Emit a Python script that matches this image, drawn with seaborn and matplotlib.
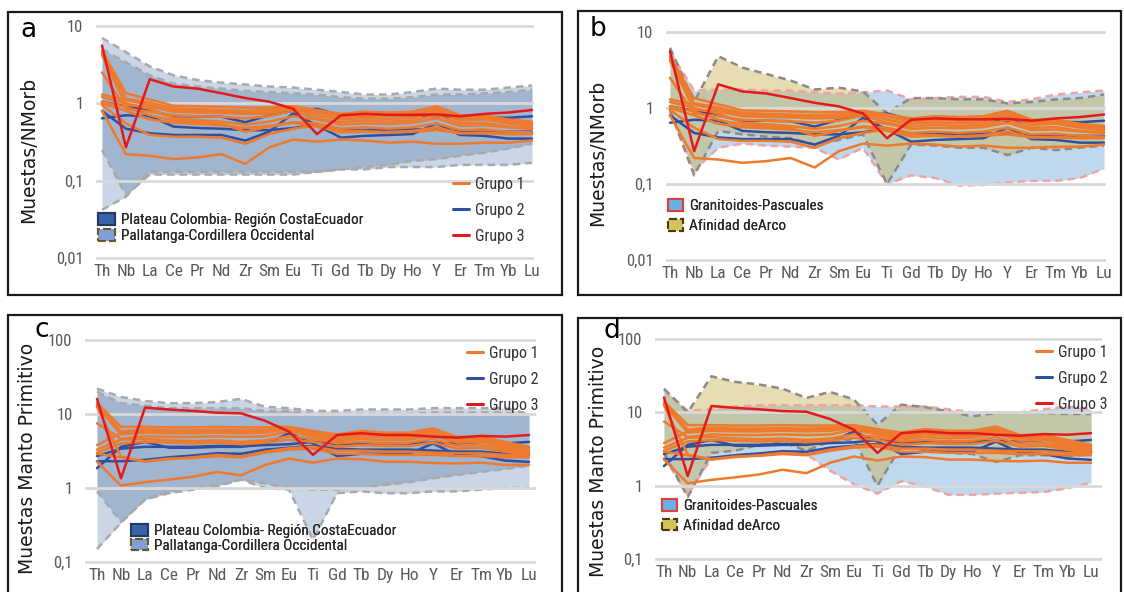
import numpy as np
import pandas as pd
import matplotlib
matplotlib.use('Agg')
import matplotlib.pyplot as plt
import seaborn as sns
from matplotlib.lines import Line2D
from matplotlib.patches import Patch, Rectangle
from matplotlib.font_manager import FontProperties
from matplotlib import font_manager as fm

sns.set_theme(style='white')
plt.rcParams['font.family'] = ['DejaVu Sans']

# ---------------- data ----------------
elements = ['Th', 'Nb', 'La', 'Ce', 'Pr', 'Nd', 'Zr', 'Sm', 'Eu', 'Ti',
            'Gd', 'Tb', 'Dy', 'Ho', 'Y', 'Er', 'Tm', 'Yb', 'Lu']

# N-MORB normalised samples (panels a, b)
morb_grupo1 = [
    [4.8, 1.35, 1.12, 0.93, 0.92, 0.90, 0.88, 0.88, 0.92, 0.82, 0.73, 0.78, 0.76, 0.78, 0.92, 0.70, 0.70, 0.62, 0.58],
    [4.5, 1.15, 1.02, 0.86, 0.84, 0.82, 0.80, 0.82, 0.90, 0.76, 0.68, 0.73, 0.70, 0.73, 0.85, 0.66, 0.68, 0.58, 0.53],
    [4.2, 0.95, 0.90, 0.78, 0.76, 0.75, 0.73, 0.74, 0.86, 0.70, 0.62, 0.65, 0.63, 0.65, 0.78, 0.60, 0.62, 0.55, 0.50],
    [2.5, 0.85, 0.78, 0.70, 0.68, 0.67, 0.64, 0.68, 0.80, 0.64, 0.57, 0.60, 0.58, 0.60, 0.70, 0.55, 0.56, 0.50, 0.47],
    [1.30, 1.10, 0.95, 0.82, 0.80, 0.78, 0.75, 0.77, 0.88, 0.78, 0.66, 0.70, 0.68, 0.70, 0.82, 0.64, 0.65, 0.58, 0.55],
    [1.20, 1.00, 0.85, 0.64, 0.61, 0.58, 0.53, 0.58, 0.68, 0.62, 0.53, 0.55, 0.54, 0.56, 0.64, 0.51, 0.52, 0.49, 0.47],
    [1.00, 0.80, 0.62, 0.56, 0.54, 0.52, 0.48, 0.51, 0.57, 0.55, 0.47, 0.49, 0.47, 0.49, 0.55, 0.45, 0.46, 0.43, 0.42],
    [0.95, 0.55, 0.39, 0.37, 0.37, 0.36, 0.30, 0.40, 0.47, 0.52, 0.44, 0.44, 0.42, 0.44, 0.49, 0.41, 0.42, 0.40, 0.40],
    [0.80, 0.22, 0.21, 0.19, 0.20, 0.22, 0.165, 0.27, 0.34, 0.32, 0.34, 0.33, 0.31, 0.32, 0.30, 0.30, 0.31, 0.31, 0.33],
    [1.05, 0.90, 0.70, 0.60, 0.57, 0.55, 0.43, 0.50, 0.56, 0.50, 0.42, 0.43, 0.42, 0.43, 0.45, 0.41, 0.41, 0.40, 0.41],
]
morb_grupo2 = [
    [1.05, 0.92, 0.80, 0.68, 0.68, 0.67, 0.57, 0.70, 0.80, 0.85, 0.70, 0.70, 0.70, 0.70, 0.68, 0.66, 0.66, 0.65, 0.68],
    [0.80, 0.47, 0.41, 0.39, 0.39, 0.39, 0.33, 0.43, 0.74, 0.52, 0.36, 0.38, 0.39, 0.40, 0.55, 0.39, 0.38, 0.35, 0.35],
    [0.64, 0.70, 0.68, 0.50, 0.48, 0.47, 0.45, 0.45, 0.48, 0.53, 0.45, 0.45, 0.46, 0.46, 0.46, 0.43, 0.43, 0.43, 0.43],
]
morb_grupo3 = [
    [5.6, 0.27, 2.05, 1.65, 1.55, 1.35, 1.17, 1.05, 0.85, 0.40, 0.70, 0.73, 0.71, 0.71, 0.72, 0.68, 0.73, 0.76, 0.82],
]

# Primitive-mantle normalised samples (panels c, d)
pm_grupo1 = [
    [14.0, 6.7, 6.7, 6.6, 6.6, 6.7, 6.6, 6.6, 6.7, 5.9, 5.3, 5.9, 5.6, 5.6, 6.4, 4.9, 4.9, 4.2, 3.6],
    [13.2, 5.8, 6.2, 6.0, 6.0, 6.1, 6.0, 6.1, 6.5, 5.6, 5.0, 5.5, 5.3, 5.3, 6.0, 4.7, 4.8, 4.0, 3.4],
    [12.8, 5.3, 5.6, 5.5, 5.5, 5.6, 5.5, 5.6, 6.2, 5.3, 4.6, 5.0, 4.8, 4.8, 5.5, 4.4, 4.5, 3.7, 3.2],
    [7.5, 4.6, 5.0, 4.9, 4.9, 5.0, 4.9, 5.0, 5.8, 5.0, 4.3, 4.6, 4.4, 4.5, 5.1, 4.1, 4.2, 3.5, 3.1],
    [3.8, 5.5, 5.8, 5.7, 5.7, 5.8, 5.7, 5.8, 6.3, 5.5, 4.8, 5.2, 5.0, 5.0, 5.7, 4.5, 4.6, 3.9, 3.5],
    [3.3, 4.5, 4.6, 4.4, 4.3, 4.4, 4.2, 4.4, 5.0, 4.6, 4.0, 4.2, 4.0, 4.1, 4.6, 3.7, 3.8, 3.3, 3.0],
    [3.0, 4.0, 4.2, 4.1, 4.0, 4.1, 3.9, 4.1, 4.5, 4.2, 3.6, 3.8, 3.7, 3.7, 4.1, 3.4, 3.5, 3.1, 2.8],
    [12.5, 2.65, 2.27, 2.45, 2.6, 2.8, 2.65, 3.1, 3.45, 3.6, 3.2, 3.2, 3.1, 3.1, 3.0, 2.95, 2.95, 2.8, 2.8],
    [2.27, 1.08, 1.2, 1.3, 1.42, 1.65, 1.48, 2.05, 2.5, 2.2, 2.5, 2.45, 2.27, 2.27, 2.17, 2.15, 2.2, 2.05, 2.05],
    [2.9, 2.6, 2.3, 2.5, 2.55, 2.7, 2.6, 3.0, 3.3, 3.4, 2.9, 2.9, 2.8, 2.8, 2.8, 2.7, 2.7, 2.6, 2.6],
]
pm_grupo2 = [
    [2.7, 3.4, 3.6, 3.6, 3.6, 3.7, 3.7, 3.8, 3.9, 4.2, 3.9, 4.0, 4.0, 4.0, 4.1, 4.0, 4.2, 4.0, 4.2],
    [1.85, 3.6, 4.2, 3.5, 3.5, 3.6, 3.6, 3.9, 5.5, 4.0, 2.7, 2.9, 2.9, 2.9, 4.0, 2.8, 2.7, 2.35, 2.25],
    [2.3, 2.3, 2.4, 2.6, 2.75, 2.95, 2.9, 3.3, 3.5, 3.7, 3.4, 3.3, 3.3, 3.3, 3.2, 3.1, 3.1, 2.9, 2.9],
]
pm_grupo3 = [
    [16.0, 1.35, 12.2, 11.5, 11.0, 10.4, 10.2, 8.1, 5.8, 2.8, 5.2, 5.5, 5.2, 5.2, 4.95, 4.8, 5.05, 4.95, 5.2],
]

# reference fields, N-MORB
morb_pallatanga_hi = [7.0, 4.6, 3.0, 2.3, 2.0, 1.85, 1.75, 1.65, 1.6, 1.5, 1.4, 1.3, 1.3, 1.4, 1.55, 1.5, 1.5, 1.6, 1.7]
morb_pallatanga_lo = [0.042, 0.062, 0.13, 0.13, 0.13, 0.13, 0.13, 0.13, 0.13, 0.13, 0.14, 0.14, 0.15, 0.15, 0.15, 0.16, 0.16, 0.16, 0.17]
morb_plateau_hi = [5.0, 3.4, 2.3, 1.8, 1.65, 1.55, 1.45, 1.4, 1.35, 1.3, 1.2, 1.15, 1.15, 1.2, 1.3, 1.3, 1.35, 1.4, 1.5]
morb_plateau_lo = [0.25, 0.065, 0.12, 0.12, 0.12, 0.12, 0.12, 0.12, 0.12, 0.13, 0.14, 0.15, 0.16, 0.18, 0.19, 0.21, 0.23, 0.26, 0.30]
morb_arco_hi = [6.2, 1.2, 4.8, 3.4, 2.8, 2.3, 1.75, 1.85, 1.65, 0.86, 1.35, 1.35, 1.3, 1.3, 1.15, 1.2, 1.3, 1.35, 1.5]
morb_arco_lo = [0.95, 0.13, 0.5, 0.45, 0.42, 0.40, 0.33, 0.38, 0.45, 0.10, 0.33, 0.32, 0.30, 0.30, 0.24, 0.30, 0.28, 0.30, 0.32]
morb_granit_hi = [5.5, 1.7, 1.75, 1.75, 1.7, 1.7, 1.6, 1.55, 1.6, 1.7, 1.3, 1.35, 1.4, 1.4, 1.2, 1.3, 1.5, 1.6, 1.7]
morb_granit_lo = [0.9, 0.15, 0.30, 0.34, 0.32, 0.31, 0.30, 0.21, 0.30, 0.10, 0.13, 0.12, 0.095, 0.097, 0.105, 0.11, 0.11, 0.12, 0.16]

# reference fields, primitive mantle
pm_pallatanga_hi = [22, 17, 15, 14, 14, 14.5, 16, 12.5, 12, 11, 11, 11.5, 11.5, 11.5, 12, 12, 12, 12, 10]
pm_pallatanga_lo = [0.15, 0.34, 0.7, 0.85, 0.95, 1.05, 1.3, 1.0, 0.95, 0.2, 0.85, 0.9, 0.85, 0.85, 0.9, 0.9, 0.95, 1.0, 1.0]
pm_plateau_hi = [20, 14, 13, 12, 12, 12, 12, 11, 11, 10, 10, 10, 10, 10, 10.5, 10.5, 10.5, 10.5, 9.5]
pm_plateau_lo = [0.9, 0.35, 0.7, 0.9, 1.0, 1.1, 1.3, 1.15, 1.0, 0.95, 0.95, 1.0, 1.1, 1.2, 1.35, 1.5, 1.65, 1.8, 2.0]
pm_arco_hi = [21, 10, 31, 26, 24, 21, 15.7, 19, 15, 6.8, 12.7, 11.8, 10.3, 8.8, 9.8, 10, 9.8, 9.5, 9.5]
pm_arco_lo = [2.8, 0.7, 2.8, 3.0, 3.6, 3.9, 3.0, 4.0, 4.3, 1.0, 3.5, 3.0, 2.8, 2.7, 2.1, 2.6, 2.6, 2.5, 2.7]
pm_granit_hi = [20, 10.5, 11, 12, 12.5, 12.5, 12.5, 12.5, 12.5, 12, 12, 12, 11, 10, 10, 10, 11, 12, 11]
pm_granit_lo = [2.5, 0.75, 2.4, 2.6, 2.7, 2.8, 2.7, 1.6, 1.05, 0.78, 1.15, 0.98, 0.75, 0.75, 0.78, 0.8, 0.82, 0.92, 1.1]

morb_yticks = [0.01, 0.1, 1, 10]
morb_ylabels = ['0,01', '0,1', '1', '10']
pm_yticks = [0.1, 1, 10, 100]
pm_ylabels = ['0,1', '1', '10', '100']

group_names = ['Grupo 1', 'Grupo 2', 'Grupo 3']
field_names_ac = ['Plateau Colombia- Región CostaEcuador', 'Pallatanga-Cordillera Occidental']
field_names_bd = ['Granitoides-Pascuales', 'Afinidad deArco']

ORANGE = '#ee7a2e'
BLUE = '#2f4fa0'
RED = '#e3191c'
palette = {'Grupo 1': ORANGE, 'Grupo 2': BLUE, 'Grupo 3': RED}

# ---------------- narrow font choice ----------------
_pref = ['Liberation Sans Narrow', 'Arial Narrow', 'Roboto Condensed', 'Noto Sans',
         'Open Sans', 'DejaVu Sans']
_cond = None
for name in _pref:
    for f in fm.fontManager.ttflist:
        if f.name != name or f.style != 'normal':
            continue
        w = f.weight
        if isinstance(w, str):
            ok_w = w in ('normal', 'regular', 'book')
        else:
            ok_w = w == 400
        is_cond = ('Narrow' in f.name or 'Condensed' in f.name or
                   str(f.stretch) in ('condensed', 'semi-condensed', 'extra-condensed'))
        if ok_w and is_cond:
            _cond = f.fname
            break
    if _cond:
        break


def fp(size):
    if _cond:
        return FontProperties(fname=_cond, size=size)
    return FontProperties(family=['Liberation Sans', 'DejaVu Sans'], size=size * 0.88)


def long_df(g1, g2, g3):
    rows = []
    for gname, samples in zip(group_names, [g1, g2, g3]):
        for i, vals in enumerate(samples):
            for j, (el, v) in enumerate(zip(elements, vals)):
                rows.append(dict(grupo=gname, muestra=f'{gname}-{i}', elemento=el, pos=j, valor=v))
    return pd.DataFrame(rows)


df_morb = long_df(morb_grupo1, morb_grupo2, morb_grupo3)
df_pm = long_df(pm_grupo1, pm_grupo2, pm_grupo3)

# ---------------- figure ----------------
W, H = 1124, 592
fig = plt.figure(figsize=(W / 100, H / 100), dpi=100)


def make_ax(x0, x1, th, lu, ytop, ybot, ylim):
    pad = 3
    s = (lu - th) / 18.0
    ax = fig.add_axes([x0 / W, 1 - (ybot + pad) / H, (x1 - x0) / W, (ybot - ytop + 2 * pad) / H])
    ax.set_yscale('log')
    lo, hi = np.log10(ylim[0]), np.log10(ylim[1])
    ppd = (ybot - ytop) / (hi - lo)
    ax.set_ylim(10 ** (lo - pad / ppd), 10 ** (hi + pad / ppd))
    ax.set_xlim(-(th - x0) / s, 18 + (x1 - lu) / s)
    for sp in ax.spines.values():
        sp.set_visible(False)
    return ax


def style_ax(ax, yticks, ylabels):
    ax.set_yticks(yticks)
    ax.set_yticklabels(ylabels, fontproperties=fp(12))
    ax.minorticks_off()
    ax.set_xticks(range(len(elements)))
    ax.set_xticklabels(elements, fontproperties=fp(12.5))
    ax.tick_params(length=0, colors='#595959', pad=2)
    ax.tick_params(axis='y', pad=9)
    ax.set_axisbelow('line')
    ax.grid(axis='y', color='#d9d9d9', lw=2)
    ax.grid(axis='x', visible=False)
    ax.set_xlabel('')
    ax.set_ylabel('')


def field(ax, lo, hi, face, alpha, edge):
    x = np.arange(len(elements))
    ax.fill_between(x, lo, hi, color=face, alpha=alpha, lw=0, zorder=1)
    ax.plot(x, hi, ls=(0, (3, 2)), color=edge, lw=1.8, zorder=1.2)
    ax.plot(x, lo, ls=(0, (3, 2)), color=edge, lw=1.8, zorder=1.2)


def lines(ax, df):
    sns.lineplot(data=df, x='pos', y='valor', hue='grupo',
                 hue_order=['Grupo 2', 'Grupo 1', 'Grupo 3'], palette=palette,
                 units='muestra', estimator=None, sort=False, legend=False,
                 lw=1.8, ax=ax, zorder=2)


def legend(ax, handles, labels, x, ytop, hl, hh, htp, ls, fs=11.5, color='#262626'):
    leg = ax.legend(handles, labels, loc='upper left', bbox_to_anchor=(x / W, 1 - ytop / H),
                    bbox_transform=fig.transFigure, frameon=False, borderpad=0,
                    borderaxespad=0, handlelength=hl, handleheight=hh,
                    handletextpad=htp, labelspacing=ls, prop=fp(fs), labelcolor=color)
    ax.add_artist(leg)
    return leg


grp_handles = [Line2D([], [], color=ORANGE, lw=2.2), Line2D([], [], color=BLUE, lw=2.2),
               Line2D([], [], color=RED, lw=2.2)]
ac_handles = [Patch(fc='#3a63a6', ec='#1f3a66', lw=1.5),
              Patch(fc='#7f9fd6', ec='#6b5a20', lw=1.5, ls='--')]
bd_handles = [Patch(fc='#6aaee6', ec='#e0403a', lw=1.5),
              Patch(fc='#d2c35a', ec='#4a3a10', lw=1.5, ls='--')]

PAL_FACE, PAL_A = '#9fb3d1', 0.55
PLA_FACE, PLA_A = '#5a7aa8', 0.35
AC_EDGE = '#a9a9a9'
GRA_FACE, GRA_A, GRA_EDGE = '#9dc3e6', 0.65, '#f2a2a2'
ARC_FACE, ARC_A, ARC_EDGE = '#c9b458', 0.45, '#8a8a8a'

# ---- panel a ----
ax_a = make_ax(96, 534, 102, 532, 26, 258, (0.01, 10))
field(ax_a, morb_pallatanga_lo, morb_pallatanga_hi, PAL_FACE, PAL_A, AC_EDGE)
field(ax_a, morb_plateau_lo, morb_plateau_hi, PLA_FACE, PLA_A, AC_EDGE)
lines(ax_a, df_morb)
style_ax(ax_a, morb_yticks, morb_ylabels)
legend(ax_a, grp_handles, group_names, 453, 177, 1.0, 0.7, 0.35, 0.68, color='#333333')
legend(ax_a, ac_handles, field_names_ac, 98, 213, 1.1, 0.8, 0.4, 0.12, fs=11)

# ---- panel b ----
ax_b = make_ax(666, 1106, 670, 1104, 32, 260, (0.01, 10))
field(ax_b, morb_granit_lo, morb_granit_hi, GRA_FACE, GRA_A, GRA_EDGE)
field(ax_b, morb_arco_lo, morb_arco_hi, ARC_FACE, ARC_A, ARC_EDGE)
lines(ax_b, df_morb)
style_ax(ax_b, morb_yticks, morb_ylabels)
legend(ax_b, bd_handles, field_names_bd, 668, 199, 1.0, 0.8, 0.4, 0.4, fs=11)

# ---- panel c ----
ax_c = make_ax(85, 536, 97, 529, 340, 562, (0.1, 100))
field(ax_c, pm_pallatanga_lo, pm_pallatanga_hi, PAL_FACE, PAL_A, AC_EDGE)
field(ax_c, pm_plateau_lo, pm_plateau_hi, PLA_FACE, PLA_A, AC_EDGE)
lines(ax_c, df_pm)
style_ax(ax_c, pm_yticks, pm_ylabels)
legend(ax_c, grp_handles, group_names, 467, 346, 1.0, 0.7, 0.35, 0.68, color='#333333')
legend(ax_c, ac_handles, field_names_ac, 131, 524, 1.1, 0.8, 0.4, 0.04, fs=11)

# ---- panel d ----
ax_d = make_ax(655, 1102, 664, 1091, 339, 559, (0.1, 100))
field(ax_d, pm_granit_lo, pm_granit_hi, GRA_FACE, GRA_A, GRA_EDGE)
field(ax_d, pm_arco_lo, pm_arco_hi, ARC_FACE, ARC_A, ARC_EDGE)
lines(ax_d, df_pm)
style_ax(ax_d, pm_yticks, pm_ylabels)
legend(ax_d, grp_handles, group_names, 1036, 345, 1.0, 0.7, 0.35, 0.68, color='#333333')
legend(ax_d, bd_handles, field_names_bd, 662, 499, 1.0, 0.8, 0.4, 0.35, fs=11)

# ---- frames, panel letters, axis titles ----
for (x0, y0, x1, y1) in [(8, 12, 562, 295), (578, 11, 1121, 295),
                         (8, 315, 562, 600), (578, 318, 1121, 600)]:
    fig.add_artist(Rectangle((x0 / W, 1 - y1 / H), (x1 - x0) / W, (y1 - y0) / H,
                             transform=fig.transFigure, fill=False, ec='#1a1a1a', lw=1.6))

for letter, x, y in [('a', 28, 30), ('b', 598, 29), ('c', 42, 330), ('d', 612, 331)]:
    fig.text(x / W, 1 - y / H, letter, fontsize=19, ha='center', va='center', color='black')

for label, x, y in [('Muestas/NMorb', 29, 150), ('Muestas/NMorb', 598, 153),
                    ('Muestas Manto Primitivo', 28, 458), ('Muestas Manto Primitivo', 599, 461)]:
    fig.text(x / W, 1 - y / H, label, rotation=90, fontsize=13.5, ha='center', va='center',
             color='#1a1a1a')

fig.savefig('out.png', dpi=100)
